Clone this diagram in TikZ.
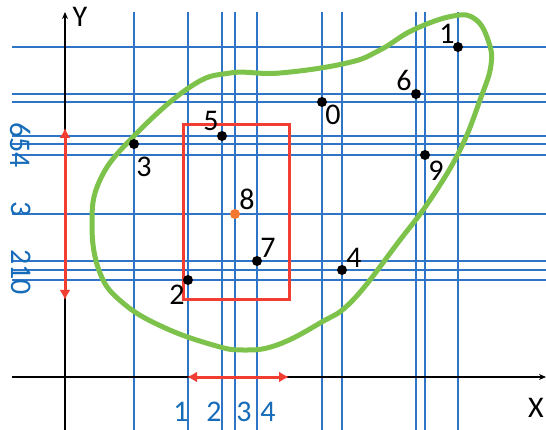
\documentclass[tikz,border=0pt]{standalone}
\usepackage{fontspec}
\setmainfont{Carlito}
\usetikzlibrary{arrows.meta,positioning}
\definecolor{gridblue}{RGB}{46,117,199}
\definecolor{labelblue}{RGB}{22,108,184}
\definecolor{boxred}{RGB}{242,62,50}
\definecolor{blobgreen}{RGB}{125,194,75}
\definecolor{dotorange}{RGB}{242,120,50}
\tikzset{
    gridline/.style={gridblue,line width=1.4pt},
    axis/.style={-{Stealth[length=7pt,width=6pt]},line width=1.2pt},
    dot/.style={circle,fill=black,minimum size=10pt,inner sep=0pt},
    num/.style={font=\fontsize{30}{30}\selectfont,inner sep=0pt},
    bluenum/.style={num,text=labelblue},
    span/.style={{Latex[length=10pt,width=11pt]}-{Latex[length=10pt,width=11pt]},boxred,line width=3pt}
}

\begin{document}
\begin{tikzpicture}[x=1pt,y=-1pt]
    \useasboundingbox (0,0) rectangle (546,430);
    % grid lines through every point
    \foreach \x/\y in {322/102,458/47,188/280,134/144,342/270,222/136,416/94,257/261,235/214,425/155}{
        \draw[gridline] (\x,12) -- (\x,430);
        \draw[gridline] (12,\y) -- (546,\y);
    }
    % axes
    \coordinate (ybot) at (65,430);
    \coordinate (ytop) at (65,12);
    \coordinate (xleft) at (12,377);
    \coordinate (xright) at (546,377);
    \draw[axis] (ybot) -- (ytop);
    \draw[axis] (xleft) -- (xright);
    \node[num] (ylab) at (80,17) {Y};
    \node[num] (xlab) at (536,408) {X};
    % cluster outline
    \draw[blobgreen,line width=5pt] plot[smooth cycle,tension=0.7] coordinates {
        (92,225) (100,180) (133,137) (190,87) (230,73) (280,73) (347,63) (380,50)
        (413,30) (453,16) (475,19) (488,40) (491,65) (480,100) (460,150) (430,200)
        (400,240) (353,300) (320,323) (277,345) (243,350) (213,345) (163,327)
        (123,303) (100,273)};
    % range box and its extents
    \node[draw=boxred,line width=3pt,minimum width=106pt,minimum height=175pt,inner sep=0pt] (box) at (236,212.5) {};
    \coordinate (ytopr) at (65,128);
    \coordinate (ybotr) at (65,300);
    \coordinate (xleftr) at (187,377);
    \coordinate (xrightr) at (289,377);
    \draw[span] (ytopr) -- (ybotr);
    \draw[span] (xleftr) -- (xrightr);
    % points and their labels
    \foreach \n/\x/\y/\lx/\ly in {0/322/102/333/115,1/458/47/447/34,2/188/280/177/295,
        3/134/144/144/167,4/342/270/354/258,5/222/136/211/121,6/416/94/404/80,
        7/257/261/268/248,9/425/155/436/171}{
        \node[dot] (p\n) at (\x,\y) {};
        \node[num] (l\n) at (\lx,\ly) {\n};
    }
    \node[dot,fill=dotorange] (p8) at (235,214) {};
    \node[num] (l8) at (247,199) {8};
    % ranks along the axes
    \node[bluenum,rotate=-90] (r654) at (21,145) {654};
    \node[bluenum,rotate=-90] (r3) at (21,209) {3};
    \node[bluenum,rotate=-90] (r210) at (21,272) {210};
    \foreach \k/\x in {1/181,2/214,3/244,4/268}
        \node[bluenum] (c\k) at (\x,412) {\k};
\end{tikzpicture}
\end{document}
